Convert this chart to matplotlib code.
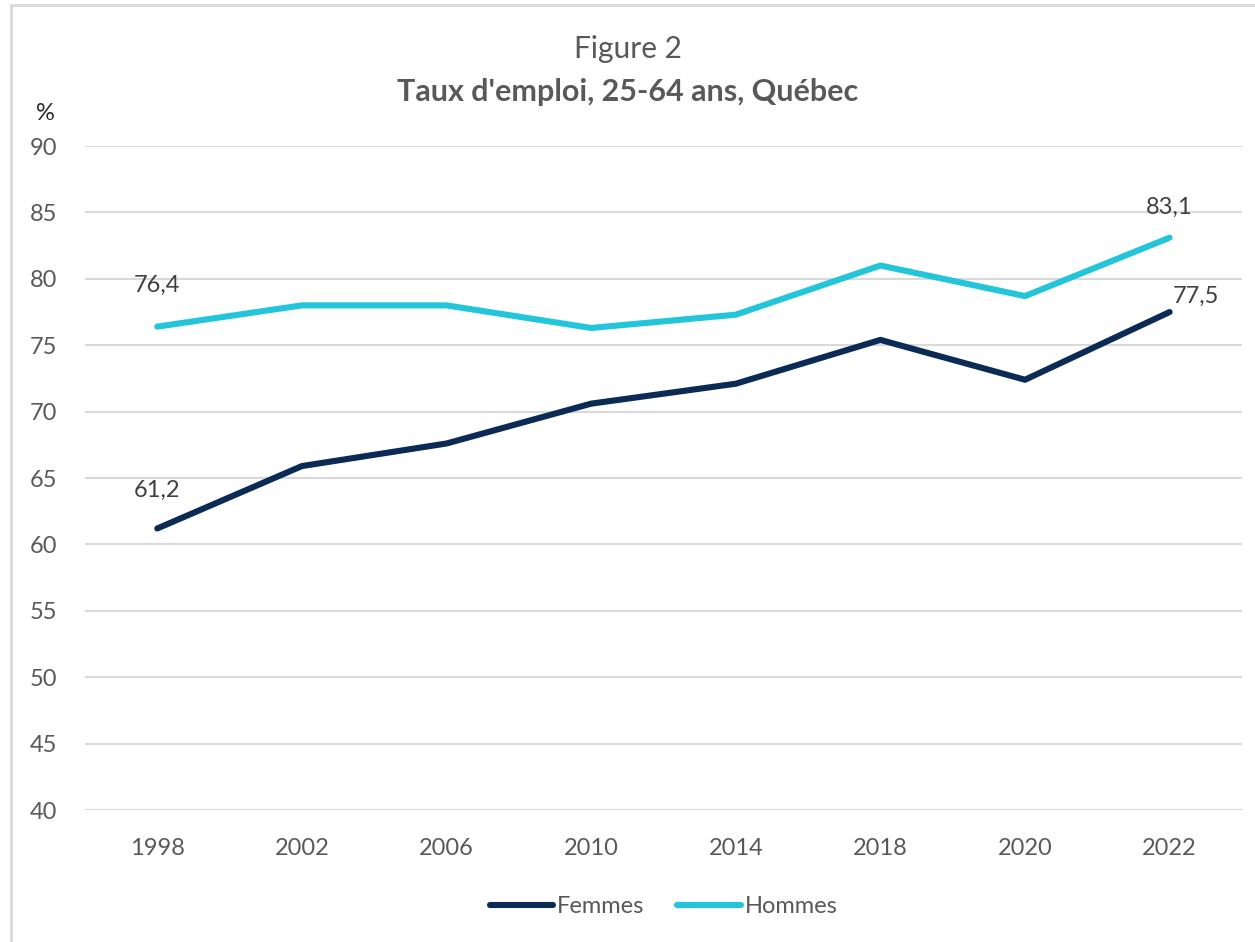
import matplotlib.pyplot as plt
from matplotlib.patches import Rectangle

# Data
years = ['1998', '2002', '2006', '2010', '2014', '2018', '2020', '2022']
femmes = [61.2, 65.9, 67.6, 70.6, 72.1, 75.4, 72.4, 77.5]
hommes = [76.4, 78.0, 78.0, 76.3, 77.3, 81.0, 78.7, 83.1]

plt.rcParams['font.family'] = ['Lato', 'DejaVu Sans']
grey = '#595959'

fig = plt.figure(figsize=(12.55, 9.42), dpi=100)
ax = fig.add_axes([0.0677, 0.1401, 0.9219, 0.7049])

x = range(len(years))
ax.plot(x, femmes, color='#0B2A55', lw=4.4, solid_capstyle='round', label='Femmes')
ax.plot(x, hommes, color='#22C5DA', lw=4.4, solid_capstyle='round', label='Hommes')

ax.set_xlim(-0.5, len(years) - 0.5)
ax.set_ylim(40, 90)
ax.set_yticks(range(40, 91, 5))
ax.set_xticks(list(x))
ax.set_xticklabels(years)
ax.tick_params(length=0, labelsize=17, labelcolor=grey)
ax.tick_params(axis='x', pad=20)
ax.tick_params(axis='y', pad=20)
ax.grid(axis='y', color='#d9d9d9', lw=1.5)
ax.set_axisbelow(True)
for s in ax.spines.values():
    s.set_visible(False)

# data labels
lab = dict(fontsize=17, color='#404040')
ax.annotate('76,4', (0, hommes[0]), xytext=(0, 22), textcoords='offset points', ha='center', va='bottom', **lab)
ax.annotate('61,2', (0, femmes[0]), xytext=(0, 20), textcoords='offset points', ha='center', va='bottom', **lab)
ax.annotate('83,1', (7, hommes[-1]), xytext=(0, 14), textcoords='offset points', ha='center', va='bottom', **lab)
ax.annotate('77,5', (7, femmes[-1]), xytext=(2, 4), textcoords='offset points', ha='left', va='bottom', **lab)

fig.text(0.5, 0.948, 'Figure 2', ha='center', va='center', fontsize=21.5, color=grey)
fig.text(0.5, 0.902, "Taux d'emploi, 25-64 ans, Québec", ha='center', va='center',
         fontsize=22, color=grey, fontweight='bold')
fig.text(0.036, 0.879, '%', ha='center', va='center', fontsize=17, color='#262626')

ax.legend(loc='center', bbox_to_anchor=(0.5, -0.145), ncol=2, frameon=False,
          fontsize=17, handlelength=2.7, columnspacing=1.4, handletextpad=0.15,
          labelcolor=grey)

fig.patches.append(Rectangle((0.009, -0.01), 1.2, 1.005, transform=fig.transFigure,
                             fill=False, edgecolor='#d9d9d9', lw=2))

fig.savefig('out.png', dpi=100)
